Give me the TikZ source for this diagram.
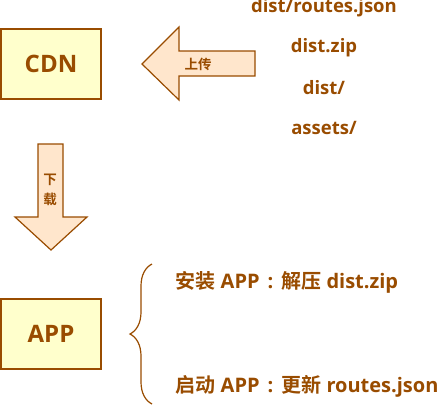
\documentclass[tikz,border=0pt]{standalone}
\usepackage{fontspec}
\setmainfont{Open Sans}
\newfontfamily\cjk{Noto Sans CJK SC}[BoldFont={Noto Sans CJK SC Bold}]
\usepackage{tikz}
\usetikzlibrary{decorations.pathreplacing}
\definecolor{brn}{RGB}{153,76,0}
\definecolor{boxfill}{RGB}{255,255,204}
\definecolor{arrfill}{RGB}{255,230,204}
\newcommand{\colsep}{\hspace{8pt}:\hspace{8pt}}

\begin{document}
\begin{tikzpicture}[x=1pt, y=-1pt, every node/.style={text=brn, font=\bfseries},
    block/.style={draw=brn, line width=1.2pt, fill=boxfill, minimum width=100pt, minimum height=70pt, font=\bfseries\fontsize{24}{26}\selectfont},
    blockarrow/.style={draw=brn, line width=1.2pt, fill=arrfill, line join=miter},
    file/.style={font=\bfseries\fontsize{18.5}{20}\selectfont},
    step text/.style={anchor=west, font=\bfseries\fontsize{20}{22}\selectfont}]
        \useasboundingbox (0,0) rectangle (442,405);
        \node[block] (cdn) at (51,64) {CDN};
        \node[block] (app) at (51,334) {APP};
        % upload arrow
        \draw[blockarrow] (142,64) -- (179,27) -- (179,51) -- (255,51) -- (255,76) -- (179,76) -- (179,100) -- cycle;
        \node[font=\bfseries\cjk\fontsize{13.5}{13.5}\selectfont] (up) at (198,64) {上传};
        % download arrow
        \draw[blockarrow] (38,144) -- (63,144) -- (63,217) -- (87,217) -- (51,250) -- (15,217) -- (38,217) -- cycle;
        \node[font=\bfseries\cjk\fontsize{13.5}{20}\selectfont, align=center] (down) at (50,190) {下\\载};
        % files
        \foreach \f/\y in {{dist/routes.json}/8, {dist.zip}/48, {dist/}/88, {assets/}/128} {
          \node[file] at (324,\y) {\f};
          }
        % brace
        \coordinate (bb) at (152,404);
        \coordinate (bt) at (152,264);
        \draw[brn, line width=1.2pt, decorate, decoration={brace, amplitude=22pt}] (bb) -- (bt);
        \node[step text] (inst) at (172,282) {{\cjk 安装} APP\colsep{\cjk 解压} dist.zip};
        \node[step text] (start) at (172,386) {{\cjk 启动} APP\colsep{\cjk 更新} routes.json};
      \end{tikzpicture}
\end{document}
